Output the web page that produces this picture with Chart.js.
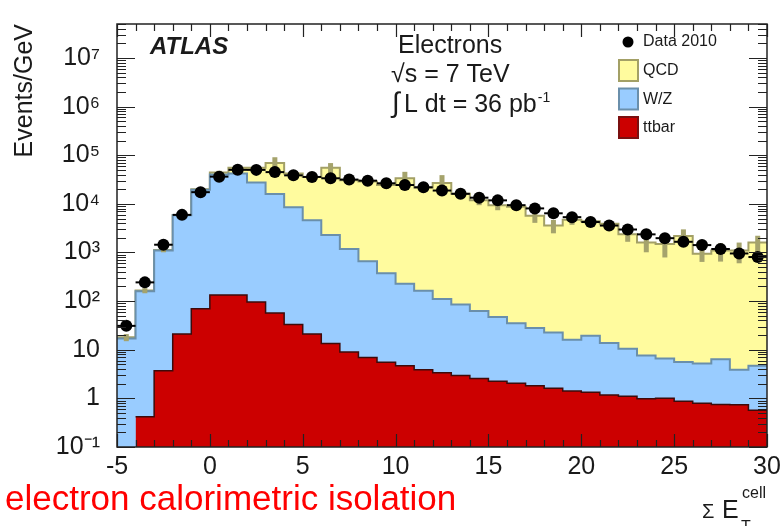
<!DOCTYPE html>
<html>
<head>
<meta charset="utf-8">
<script src="https://cdn.jsdelivr.net/npm/chart.js@4.4.1/dist/chart.umd.min.js"></script>
<style>
  html, body { margin: 0; padding: 0; background: #fff; }
  #wrap { width: 784px; height: 526px; position: relative; }
</style>
</head>
<body>
<div id="wrap"><canvas id="isoChart"></canvas></div>
<script>
// 1 GeV bins from -5 to 30 GeV
const xMin = -5;
const xMax = 30;

// Data 2010, events/GeV per bin
const dataCounts = [31, 243, 1445, 5940, 17400, 36300, 50100, 50000, 45000, 38600,
  35800, 33600, 31600, 30000, 26500, 24400, 21900, 18800, 16100, 13400,
  11800, 9400, 8070, 6400, 5330, 4230, 3580, 2970, 2360, 1970,
  1660, 1420, 1180, 955, 806];

// stacked MC: top of QCD (= total), top of W/Z, ttbar
const qcdTotal = [18, 165, 1130, 5900, 20000, 44000, 55000, 55000, 69000, 42000,
  35800, 55000, 30700, 29000, 24500, 33600, 21600, 27000, 16100, 11800,
  9400, 8700, 5670, 3580, 4710, 4400, 3920, 2360, 1610, 1490,
  2190, 940, 1100, 1100, 1610];
const wzTotal = [17, 160, 1100, 5800, 19500, 40000, 42000, 27500, 16000, 8500,
  4600, 2290, 1180, 660, 375, 228, 163, 110, 85, 63,
  47, 35, 28, 22.6, 16.1, 19.4, 13.8, 10.5, 7.6, 6.6,
  5.6, 5.2, 6.4, 3.9, 4.7];
const ttbar = [0, 0.42, 3.7, 21, 70, 134, 134, 96, 57, 33,
  21, 13.4, 9, 6.9, 5.5, 4.7, 3.9, 3.35, 2.97, 2.55,
  2.26, 2.04, 1.82, 1.61, 1.42, 1.34, 1.18, 1.1, 0.98, 1.0,
  0.87, 0.79, 0.75, 0.74, 0.57];
// MC uncertainty on the total
const mcErr = [3, 20, 120, 500, 2000, 4000, 5000, 6000, 22000, 5000,
  5000, 14000, 4000, 4000, 4000, 12000, 3000, 12000, 2000, 2400,
  2000, 1200, 1600, 1100, 1000, 1000, 700, 700, 600, 700,
  800, 300, 450, 500, 600];

const yTickLabels = ['10⁻¹', '1', '10', '10²', '10³', '10⁴', '10⁵', '10⁶', '10⁷'];
const xTicks = [];
for (let v = xMin; v <= xMax; v++) xTicks.push(v);

const FONT = '"Liberation Sans", Arial, Helvetica, sans-serif';
const INK = '#1a1a1a';

function steps(vals) {
  const pts = vals.map((v, i) => ({ x: xMin + i, y: v }));
  pts.push({ x: xMax, y: vals[vals.length - 1] });
  return pts;
}

const decor = {
  id: 'decor',
  beforeDatasetDraw(chart, args) {
    if (args.index !== 0) return;
    const { ctx, chartArea: a, scales: { x, y } } = chart;
    ctx.save();
    ctx.beginPath();
    ctx.rect(a.left, a.top, a.right - a.left, a.bottom - a.top);
    ctx.clip();
    // MC error bars
    ctx.strokeStyle = '#a5a36c';
    ctx.lineWidth = 5;
    qcdTotal.forEach((v, i) => {
      const cx = x.getPixelForValue(xMin + i + 0.5);
      ctx.beginPath();
      ctx.moveTo(cx, y.getPixelForValue(Math.max(v - mcErr[i], 0.1)));
      ctx.lineTo(cx, y.getPixelForValue(v + mcErr[i]));
      ctx.stroke();
    });
    // bin width bars on data
    ctx.strokeStyle = '#000';
    ctx.lineWidth = 2;
    dataCounts.forEach((v, i) => {
      const py = y.getPixelForValue(v);
      ctx.beginPath();
      ctx.moveTo(x.getPixelForValue(xMin + i), py);
      ctx.lineTo(x.getPixelForValue(xMin + i + 1), py);
      ctx.stroke();
    });
    ctx.restore();
  },
  afterDraw(chart) {
    const { ctx, chartArea: a, scales: { x, y } } = chart;
    ctx.save();
    // ticks pointing inwards on all four sides
    ctx.strokeStyle = '#222';
    ctx.lineWidth = 1.2;
    y.ticks.forEach(t => {
      const py = Math.round(y.getPixelForValue(t.value)) + 0.5;
      const len = t.label ? 18 : 9;
      ctx.beginPath();
      ctx.moveTo(a.left, py); ctx.lineTo(a.left + len, py);
      ctx.moveTo(a.right, py); ctx.lineTo(a.right - len, py);
      ctx.stroke();
    });
    x.ticks.forEach(t => {
      const px = Math.round(x.getPixelForValue(t.value)) + 0.5;
      const len = t.value % 5 === 0 ? 13 : 7;
      ctx.beginPath();
      ctx.moveTo(px, a.bottom); ctx.lineTo(px, a.bottom - len);
      ctx.moveTo(px, a.top); ctx.lineTo(px, a.top + len);
      ctx.stroke();
    });
    ctx.lineWidth = 1.5;
    ctx.strokeRect(a.left, a.top, a.right - a.left, a.bottom - a.top);

    // y axis title, right-aligned to the top of the frame
    ctx.fillStyle = INK;
    ctx.save();
    ctx.translate(32, a.top);
    ctx.rotate(-Math.PI / 2);
    ctx.textAlign = 'right';
    ctx.textBaseline = 'alphabetic';
    ctx.font = '25px ' + FONT;
    ctx.fillText('Events/GeV', 0, 0);
    ctx.restore();

    // plot labels
    ctx.textBaseline = 'alphabetic';
    ctx.textAlign = 'left';
    ctx.font = 'italic bold 24px ' + FONT;
    ctx.fillText('ATLAS', 150, 54);
    ctx.font = '25px ' + FONT;
    ctx.fillText('Electrons', 398, 53);
    ctx.fillText('√s = 7 TeV', 391, 82);
    ctx.font = '28px ' + FONT;
    ctx.fillText('∫', 392, 112);
    ctx.font = '25px ' + FONT;
    ctx.fillText('L dt = 36 pb', 404, 112);
    const w = ctx.measureText('L dt = 36 pb').width;
    ctx.font = '14px ' + FONT;
    ctx.fillText('-1', 405 + w, 102);

    // legend
    const ds = chart.data.datasets;
    ctx.font = '16px ' + FONT;
    ctx.textBaseline = 'middle';
    ctx.fillStyle = '#000';
    ctx.beginPath();
    ctx.arc(628, 42, 5.5, 0, Math.PI * 2);
    ctx.fill();
    ctx.fillStyle = INK;
    ctx.fillText(ds[0].label, 643, 42);
    [1, 2, 3].forEach((k, j) => {
      const by = 60 + j * 28.5;
      ctx.fillStyle = ds[k].backgroundColor;
      ctx.fillRect(619, by, 19, 21);
      ctx.strokeStyle = ds[k].legendBorder;
      ctx.lineWidth = 2;
      ctx.strokeRect(619, by, 19, 21);
      ctx.fillStyle = INK;
      ctx.fillText(ds[k].label, 643, by + 11);
    });

    // x axis title
    ctx.textBaseline = 'alphabetic';
    ctx.font = '20px ' + FONT;
    ctx.fillText('Σ', 702, 518);
    ctx.font = '25px ' + FONT;
    ctx.fillText('E', 722, 518);
    ctx.font = '16px ' + FONT;
    ctx.fillText('cell', 742, 498);
    ctx.fillText('T', 741, 532);

    // slide caption
    ctx.fillStyle = '#ff0000';
    ctx.font = '35px ' + FONT;
    ctx.fillText('electron calorimetric isolation', 5, 510);
    ctx.restore();
  }
};

new Chart(document.getElementById('isoChart'), {
  type: 'line',
  data: {
    datasets: [{
      label: 'Data 2010',
      data: dataCounts.map((v, i) => ({ x: xMin + i + 0.5, y: v })),
      showLine: false,
      pointRadius: 6,
      pointBackgroundColor: '#000',
      pointBorderWidth: 0,
      order: 0
    }, {
      label: 'QCD',
      data: steps(qcdTotal),
      stepped: true,
      fill: 'start',
      backgroundColor: '#fffb9e',
      borderColor: '#a3a066',
      legendBorder: '#a3a066',
      borderWidth: 2,
      pointRadius: 0,
      order: 3
    }, {
      label: 'W/Z',
      data: steps(wzTotal),
      stepped: true,
      fill: 'start',
      backgroundColor: '#99ccff',
      borderColor: '#6a8fab',
      legendBorder: '#6a8fab',
      borderWidth: 2,
      pointRadius: 0,
      order: 2
    }, {
      label: 'ttbar',
      data: steps(ttbar),
      stepped: true,
      fill: 'start',
      backgroundColor: '#cc0000',
      borderColor: '#3d0a0a',
      legendBorder: '#7a1010',
      borderWidth: 1.5,
      pointRadius: 0,
      order: 1
    }]
  },
  options: {
    responsive: true,
    maintainAspectRatio: false,
    animation: false,
    layout: { padding: { top: 12, right: 17, left: 0, bottom: 0 } },
    plugins: {
      legend: { display: false },
      tooltip: { enabled: false }
    },
    scales: {
      x: {
        type: 'linear',
        min: xMin,
        max: xMax,
        grid: { display: false },
        border: { display: false },
        afterBuildTicks: s => { s.ticks = xTicks.map(v => ({ value: v })); },
        afterFit: s => { s.height = 79; },
        ticks: {
          autoSkip: false,
          maxRotation: 0,
          padding: -3,
          color: INK,
          font: { family: FONT, size: 25 },
          callback: v => (v % 5 === 0 ? String(v) : '')
        }
      },
      y: {
        type: 'logarithmic',
        min: 0.1,
        max: 5e7,
        grid: { display: false },
        border: { display: false },
        afterBuildTicks: s => {
          const t = [];
          for (let e = -1; e <= 7; e++) {
            for (let m = 1; m <= 9; m++) {
              const v = Number((m * Math.pow(10, e)).toPrecision(3));
              if (v <= 5e7) t.push({ value: v });
            }
          }
          s.ticks = t;
        },
        afterFit: s => { s.width = 117; },
        ticks: {
          autoSkip: false,
          padding: 9,
          color: INK,
          font: { family: FONT, size: 25 },
          callback: v => {
            const e = Math.round(Math.log10(v));
            return Math.abs(Math.log10(v) - e) < 1e-6 ? yTickLabels[e + 1] : '';
          }
        }
      }
    }
  },
  plugins: [decor]
});
</script>
</body>
</html>
